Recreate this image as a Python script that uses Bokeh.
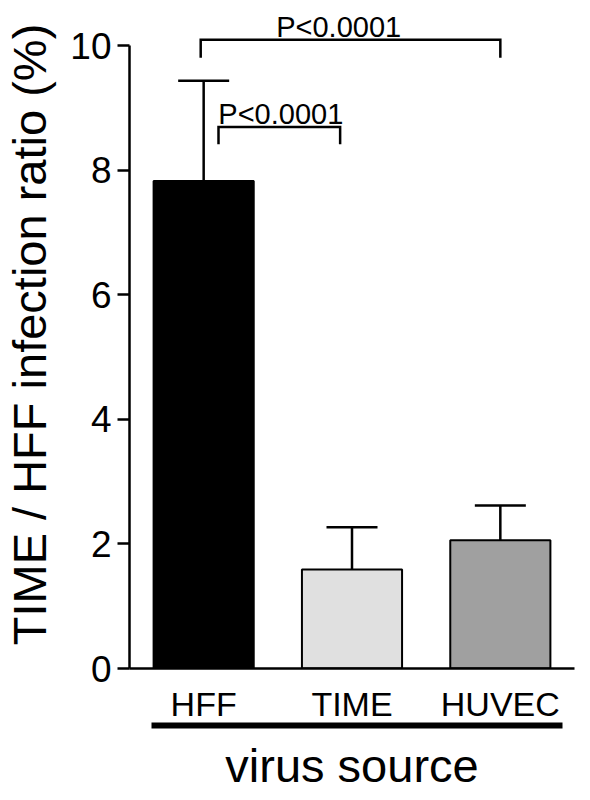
from bokeh.plotting import figure
from bokeh.models import Range1d, FixedTicker, LinearAxis, Whisker, TeeHead, ColumnDataSource
from bokeh.embed import file_html
from bokeh.resources import INLINE
from bokeh.core.properties import value

# ---- data ----
categories = ["HFF", "TIME", "HUVEC"]
means = [7.83, 1.59, 2.06]
sems = [1.61, 0.68, 0.56]
colors = ["#000000", "#e0e0e0", "#a0a0a0"]
y_ticks = [0, 2, 4, 6, 8, 10]
comparisons = [("HFF", "HUVEC", "P<0.0001"), ("HFF", "TIME", "P<0.0001")]

# ---- layout constants ----
FONT = "Liberation Sans"
xpos = [i + 0.5 for i in range(len(categories))]
center = {c: x for c, x in zip(categories, xpos)}
# bracket geometry: (left offset, right offset, bracket y, drop, text x, text y)
bracket_layout = [(-0.02, 0.0, 10.10, 0.29, 1.41, 10.31),
                  (0.10, -0.08, 8.70, 0.28, 1.02, 8.91)]

p = figure(frame_width=445, frame_height=668, output_backend="svg", toolbar_location=None,
           x_range=Range1d(0, 3), y_range=Range1d(0, 10.73),
           min_border_left=124, min_border_right=5, min_border_top=0, min_border_bottom=116)
p.xgrid.visible = False
p.ygrid.visible = False
p.outline_line_color = None
p.background_fill_color = "white"

# bars
p.vbar(x=xpos, top=means, width=0.675, fill_color=colors, line_color="black", line_width=2)

# error bars (upper only)
src = ColumnDataSource(dict(base=xpos, lower=means, upper=[m + s for m, s in zip(means, sems)]))
w = Whisker(base="base", lower="lower", upper="upper", source=src, dimension="height",
            line_width=2.5, line_color="black", lower_head=None,
            upper_head=TeeHead(size=51, line_width=2.5, line_color="black"))
p.add_layout(w)

# significance brackets
for (a, b, label), (ol, orr, yb, drop, tx, ty) in zip(comparisons, bracket_layout):
    x0 = center[a] + ol
    x1 = center[b] + orr
    p.multi_line(xs=[[x0, x0, x1, x1]], ys=[[yb - drop, yb, yb, yb - drop]],
                 line_width=2.5, line_color="black", line_join="miter")
    p.text(x=[tx], y=[ty], text=[label], text_align="center",
           text_baseline="alphabetic", text_font=value(FONT), text_font_size="29px",
           text_color="black")

# y axis
ya = p.yaxis[0]
ya.ticker = FixedTicker(ticks=y_ticks)
ya.bounds = (0, 10)
ya.axis_line_width = 2.5
ya.major_tick_line_width = 2.5
ya.major_tick_out = 12
ya.major_tick_in = 0
ya.minor_tick_line_color = None
ya.major_label_text_font = FONT
ya.major_label_text_font_size = "37px"
ya.major_label_text_color = "black"
ya.major_label_standoff = 6
ya.axis_label = "TIME / HFF infection ratio (%)"
ya.axis_label_text_font = FONT
ya.axis_label_text_font_size = "47px"
ya.axis_label_text_font_style = "normal"
ya.axis_label_text_color = "black"
ya.axis_label_standoff = 11

# x axis (category labels)
xa = p.xaxis[0]
xa.ticker = FixedTicker(ticks=xpos)
xa.major_label_overrides = {x: c for x, c in zip(xpos, categories)}
xa.axis_line_width = 2.5
xa.major_tick_in = 0
xa.major_tick_out = 0
xa.minor_tick_line_color = None
xa.major_label_text_font = FONT
xa.major_label_text_font_size = "34px"
xa.major_label_text_color = "black"
xa.major_label_standoff = 16

# second x axis: thick underline + "virus source"
xa2 = LinearAxis(ticker=FixedTicker(ticks=[]), bounds=(0.15, 2.92), axis_line_width=6,
                 major_tick_in=0, major_tick_out=0, minor_tick_line_color=None,
                 axis_label="virus source", axis_label_text_font=FONT,
                 axis_label_text_font_size="47px", axis_label_text_font_style="normal",
                 axis_label_text_color="black", axis_label_standoff=13)
p.add_layout(xa2, "below")

open("out.html", "w").write(file_html(p, INLINE))
